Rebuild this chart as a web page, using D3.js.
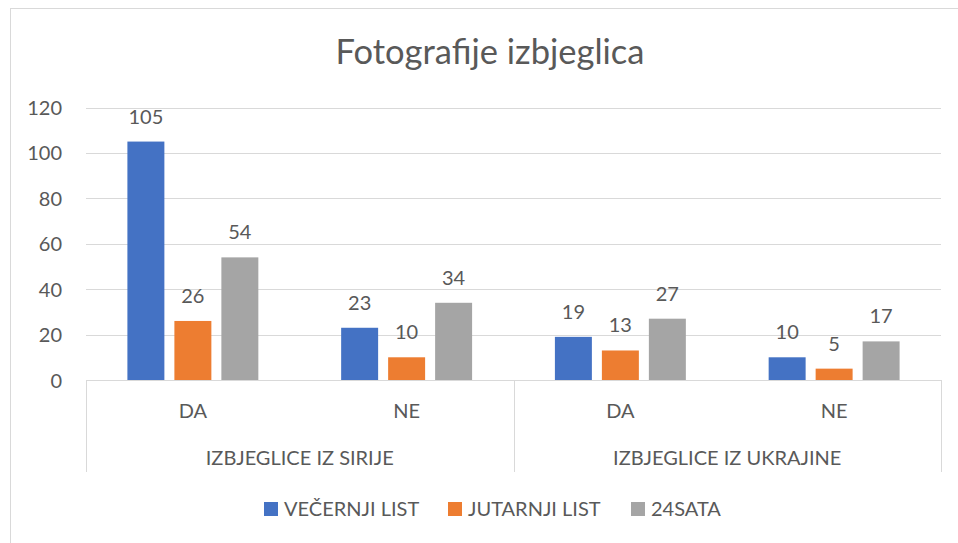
<!DOCTYPE html>
<html><head><meta charset="utf-8">
<script src="https://cdn.jsdelivr.net/npm/d3@7"></script>
<style>body{margin:0;background:#fff}svg{display:block}text{font-family:Lato,"Open Sans",sans-serif;fill:#595959}</style>
</head><body>
<script>
const title = "Fotografije izbjeglica";
const groups = ["IZBJEGLICE IZ SIRIJE", "IZBJEGLICE IZ UKRAJINE"];
const subcats = ["DA", "NE"];
const series = ["VEČERNJI LIST", "JUTARNJI LIST", "24SATA"];
const colors = ["#4472C4", "#ED7D31", "#A5A5A5"];
const vecernji = [105, 23, 19, 10];
const jutarnji = [26, 10, 13, 5];
const sata24 = [54, 34, 27, 17];
const yTicks = [0, 20, 40, 60, 80, 100, 120];

(function () {
const values = [vecernji, jutarnji, sata24];
const cats = [];
groups.forEach((g, gi) => subcats.forEach((s, si) => cats.push({g, s, i: gi * subcats.length + si})));

const W = 958, H = 543;
const svg = d3.select("body").append("svg").attr("width", W).attr("height", H);

svg.append("rect").attr("x", 10.5).attr("y", 8.5).attr("width", 1000).attr("height", 600)
  .attr("fill", "none").attr("stroke", "#D9D9D9").attr("stroke-width", 1);

const pLeft = 86, pRight = 941, pTop = 107.5, pBottom = 380;
const y = d3.scaleLinear().domain([0, 120]).range([pBottom, pTop]);
const x0 = d3.scaleBand().domain(cats.map(c => c.i)).range([pLeft, pRight]);
const bw0 = x0.bandwidth();
const side = bw0 * 0.1937;
const x1 = d3.scaleBand().domain(series).range([side, bw0 - side]).paddingInner(0.213);

// title
svg.append("text").attr("x", 490).attr("y", 64).attr("text-anchor", "middle")
  .style("font-size", "34.5px").text(title);

// gridlines
svg.append("g").selectAll("line").data(yTicks.filter(t => t > 0)).join("line")
  .attr("x1", pLeft).attr("x2", pRight)
  .attr("y1", d => Math.round(y(d)) + 0.5).attr("y2", d => Math.round(y(d)) + 0.5)
  .attr("stroke", "#D9D9D9").attr("stroke-width", 1);

// y labels
const yAxis = d3.axisLeft(y).tickValues(yTicks).tickSize(0).tickPadding(0);
const gy = svg.append("g").attr("transform", `translate(62,0)`).call(yAxis);
gy.select(".domain").remove();
gy.selectAll("text").attr("fill", null).style("font-size", "20px").attr("dy", "0.35em");

// bars
const gBars = svg.append("g");
series.forEach((s, si) => {
  gBars.selectAll(null).data(cats).join("rect")
    .attr("x", c => x0(c.i) + x1(s)).attr("width", x1.bandwidth())
    .attr("y", c => y(values[si][c.i])).attr("height", c => y(0) - y(values[si][c.i]))
    .attr("fill", colors[si]);
  gBars.selectAll(null).data(cats).join("text")
    .attr("x", c => x0(c.i) + x1(s) + x1.bandwidth() / 2)
    .attr("y", c => y(values[si][c.i]) - 18)
    .attr("text-anchor", "middle").style("font-size", "20px")
    .text(c => values[si][c.i]);
});

// category axis
svg.append("line").attr("x1", pLeft).attr("x2", pRight).attr("y1", pBottom + 0.5).attr("y2", pBottom + 0.5)
  .attr("stroke", "#D9D9D9").attr("stroke-width", 1);
const groupW = bw0 * subcats.length;
const seps = d3.range(groups.length + 1).map(k => pLeft + k * groupW);
svg.append("g").selectAll("line").data(seps).join("line")
  .attr("x1", d => Math.round(d) + 0.5).attr("x2", d => Math.round(d) + 0.5)
  .attr("y1", pBottom).attr("y2", 472)
  .attr("stroke", "#D9D9D9").attr("stroke-width", 1);

svg.append("g").selectAll("text").data(cats).join("text")
  .attr("x", c => x0(c.i) + bw0 / 2).attr("y", 418).attr("text-anchor", "middle")
  .style("font-size", "20px").text(c => c.s);
svg.append("g").selectAll("text").data(groups).join("text")
  .attr("x", (g, gi) => pLeft + gi * groupW + groupW / 2).attr("y", 465).attr("text-anchor", "middle")
  .style("font-size", "20px").text(g => g);

// legend
const legX = [264, 448, 631];
const lg = svg.append("g");
series.forEach((s, si) => {
  lg.append("rect").attr("x", legX[si]).attr("y", 502).attr("width", 14).attr("height", 14).attr("fill", colors[si]);
  lg.append("text").attr("x", legX[si] + 20).attr("y", 515.5).style("font-size", "20px").text(s);
});
})();
</script>
</body></html>
